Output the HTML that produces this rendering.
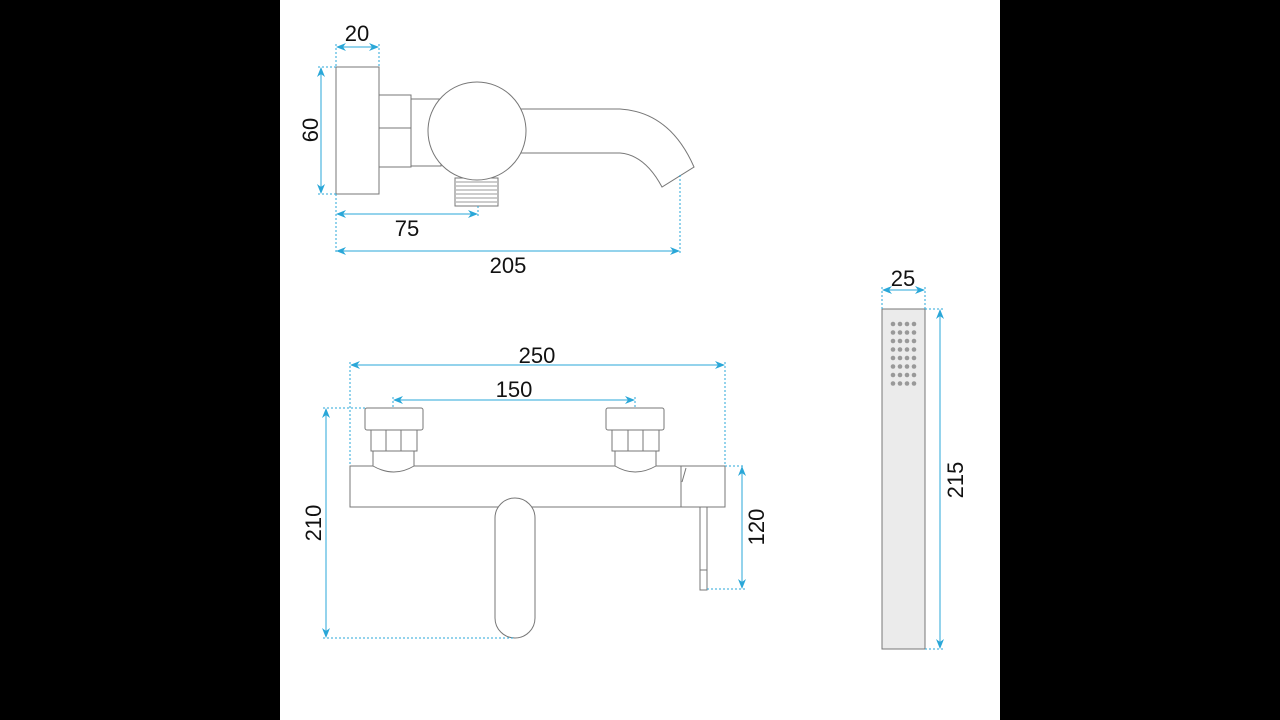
<!DOCTYPE html>
<html><head><style>
html,body{margin:0;padding:0;background:#000;width:1280px;height:720px;overflow:hidden}
svg{display:block}
text{font-family:"Liberation Sans",sans-serif;font-size:22px;fill:#111}
</style></head><body>
<svg width="1280" height="720" viewBox="0 0 1280 720">
<defs>
<marker id="a" markerWidth="10" markerHeight="8" refX="9" refY="4" orient="auto-start-reverse" markerUnits="userSpaceOnUse">
<path d="M0,0 L10,4 L0,8 L3,4 z" fill="#2aa7d8"/></marker>
</defs>
<rect x="280" y="0" width="720" height="720" fill="#fff"/>
<g fill="#fff" stroke="#777" stroke-width="1">
<!-- top view -->
<rect x="336" y="67" width="43" height="127"/>
<rect x="379" y="95" width="32" height="72"/>
<line x1="379" y1="128" x2="411" y2="128"/>
<rect x="411" y="99" width="30" height="67"/>
<rect x="455" y="178" width="43" height="28"/>
<g stroke="#999"><line x1="456" y1="182" x2="497" y2="182"/><line x1="456" y1="186" x2="497" y2="186"/><line x1="456" y1="190" x2="497" y2="190"/><line x1="456" y1="194" x2="497" y2="194"/><line x1="456" y1="198" x2="497" y2="198"/><line x1="456" y1="202" x2="497" y2="202"/></g>
<path d="M515,109 L620,109 Q670,112 694,167 L662,187 Q645,155 620,153 L515,153 Z"/>
<circle cx="477" cy="131" r="49"/>
<!-- front view -->
<rect x="350" y="466" width="375" height="41"/>
<path d="M373,451 L414,451 L414,466 Q394,478 373,466 Z"/>
<path d="M615,451 L656,451 L656,466 Q635,478 615,466 Z"/>
<line x1="681" y1="466" x2="681" y2="507"/>
<line x1="686" y1="468" x2="682" y2="482"/>
<rect x="371" y="430" width="46" height="21"/><line x1="386" y1="430" x2="386" y2="451"/><line x1="401" y1="430" x2="401" y2="451"/>
<rect x="365" y="408" width="58" height="22" rx="2"/>
<rect x="612" y="430" width="47" height="21"/><line x1="628" y1="430" x2="628" y2="451"/><line x1="643" y1="430" x2="643" y2="451"/>
<rect x="606" y="408" width="58" height="22" rx="2"/>
<rect x="495" y="498" width="40" height="140" rx="20"/>
<rect x="700" y="507" width="7" height="83"/><line x1="700" y1="570" x2="707" y2="570"/>
<!-- hand shower -->
<rect x="882" y="309" width="43" height="340" fill="#ebebeb"/>
</g>
<g fill="#999">
<g id="r"><circle cx="893" cy="324" r="2.3"/><circle cx="900" cy="324" r="2.3"/><circle cx="907" cy="324" r="2.3"/><circle cx="914" cy="324" r="2.3"/></g>
<use href="#r" y="8.5"/><use href="#r" y="17"/><use href="#r" y="25.5"/><use href="#r" y="34"/><use href="#r" y="42.5"/><use href="#r" y="51"/><use href="#r" y="59.5"/>
</g>
<!-- dimensions -->
<g stroke="#2aa7d8" stroke-width="1" fill="none">
<g stroke-dasharray="2,2">
<line x1="336" y1="44" x2="336" y2="67"/><line x1="379" y1="44" x2="379" y2="67"/>
<line x1="318" y1="67" x2="336" y2="67"/><line x1="318" y1="194" x2="336" y2="194"/>
<line x1="336" y1="194" x2="336" y2="254"/><line x1="478" y1="206" x2="478" y2="217"/>
<line x1="680" y1="175" x2="680" y2="254"/>
<line x1="350" y1="362" x2="350" y2="466"/><line x1="725" y1="362" x2="725" y2="466"/>
<line x1="393" y1="397" x2="393" y2="408"/><line x1="635" y1="397" x2="635" y2="408"/>
<line x1="323" y1="408" x2="365" y2="408"/><line x1="323" y1="638" x2="515" y2="638"/>
<line x1="725" y1="466" x2="745" y2="466"/><line x1="707" y1="589" x2="745" y2="589"/>
<line x1="882" y1="287" x2="882" y2="309"/><line x1="925" y1="287" x2="925" y2="309"/>
<line x1="925" y1="309" x2="943" y2="309"/><line x1="925" y1="649" x2="943" y2="649"/>
</g>
<line x1="337" y1="47" x2="378" y2="47" marker-start="url(#a)" marker-end="url(#a)"/>
<line x1="321" y1="68" x2="321" y2="193" marker-start="url(#a)" marker-end="url(#a)"/>
<line x1="337" y1="214" x2="477" y2="214" marker-start="url(#a)" marker-end="url(#a)"/>
<line x1="337" y1="251" x2="679" y2="251" marker-start="url(#a)" marker-end="url(#a)"/>
<line x1="351" y1="365" x2="724" y2="365" marker-start="url(#a)" marker-end="url(#a)"/>
<line x1="394" y1="400" x2="634" y2="400" marker-start="url(#a)" marker-end="url(#a)"/>
<line x1="326" y1="409" x2="326" y2="637" marker-start="url(#a)" marker-end="url(#a)"/>
<line x1="742" y1="467" x2="742" y2="588" marker-start="url(#a)" marker-end="url(#a)"/>
<line x1="883" y1="290" x2="924" y2="290" marker-start="url(#a)" marker-end="url(#a)"/>
<line x1="940" y1="310" x2="940" y2="648" marker-start="url(#a)" marker-end="url(#a)"/>
</g>
<text x="357" y="41" text-anchor="middle">20</text>
<text transform="translate(318,130) rotate(-90)" text-anchor="middle">60</text>
<text x="407" y="236" text-anchor="middle">75</text>
<text x="508" y="273" text-anchor="middle">205</text>
<text x="537" y="363" text-anchor="middle">250</text>
<text x="514" y="397" text-anchor="middle">150</text>
<text transform="translate(321,523) rotate(-90)" text-anchor="middle">210</text>
<text transform="translate(764,527) rotate(-90)" text-anchor="middle">120</text>
<text x="903" y="286" text-anchor="middle">25</text>
<text transform="translate(963,480) rotate(-90)" text-anchor="middle">215</text>
</svg>
</body></html>
